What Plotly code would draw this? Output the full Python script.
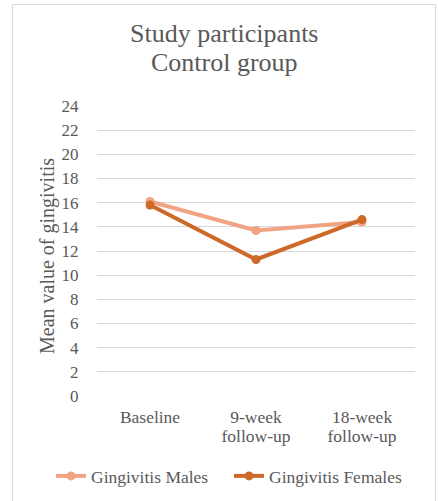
import plotly.graph_objects as go

categories = ["Baseline", "9-week<br>follow-up", "18-week<br>follow-up"]
males = [16.1, 13.7, 14.4]
females = [15.8, 11.3, 14.6]
y_ticks = list(range(0, 25, 2))
title_lines = ["Study participants", "Control group"]

font_family = "Liberation Serif"
text_grey = "#595959"
male_color = "#F1A484"
female_color = "#CD6A2A"

fig = go.Figure()
fig.add_trace(go.Scatter(
    x=categories, y=males, mode="lines+markers", name="Gingivitis Males",
    line=dict(color=male_color, width=4),
    marker=dict(color=male_color, size=9),
))
fig.add_trace(go.Scatter(
    x=categories, y=females, mode="lines+markers", name="Gingivitis Females",
    line=dict(color=female_color, width=4),
    marker=dict(color=female_color, size=9),
))

W, H = 438, 501
ml, mr, mt, mb = 97, 23, 106, 105
pw, ph = W - ml - mr, H - mt - mb

def px(x):
    return (x - ml) / pw

def py(y):
    return (H - mb - y) / ph

def big(s, size):
    # glyph size larger than the base font, so the line pitch stays tight
    return "<br>".join(f'<span style="font-size:{size}px">{part}</span>'
                       for part in s.split("<br>"))

fig.update_layout(
    width=W, height=H,
    margin=dict(l=ml, r=mr, t=mt, b=mb, autoexpand=False),
    paper_bgcolor="white", plot_bgcolor="white",
    font=dict(family=font_family, color=text_grey, size=17),
    showlegend=True,
    legend=dict(
        orientation="h", xanchor="left", yanchor="middle",
        x=px(51), y=py(476),
        font=dict(family=font_family, size=17.5, color=text_grey),
        itemwidth=30, entrywidth=133, tracegroupgap=0,
        bgcolor="rgba(0,0,0,0)",
    ),
    xaxis=dict(
        type="category", range=[-0.5, 2.5], showgrid=False, zeroline=False,
        showline=False, ticks="outside", ticklen=8, tickcolor="rgba(0,0,0,0)",
        tickvals=categories, ticktext=[big(c, 17.5) for c in categories],
        tickfont=dict(family=font_family, size=14.6, color=text_grey),
        fixedrange=True,
    ),
    yaxis=dict(
        range=[0, 24], tickvals=y_ticks, showgrid=True, gridcolor="#D9D9D9",
        gridwidth=1, zeroline=False, showline=False,
        ticks="outside", ticklen=14, tickcolor="rgba(0,0,0,0)",
        tickfont=dict(family=font_family, size=17, color=text_grey),
        fixedrange=True,
    ),
    shapes=[dict(
        type="rect", xref="paper", yref="paper",
        x0=px(12.5), x1=px(435.5), y0=py(4.5), y1=py(510),
        line=dict(color="#D9D9D9", width=1), layer="below",
    )],
    annotations=[
        dict(text=big("<br>".join(title_lines), 26), xref="paper", yref="paper",
             x=px(224), y=py(48), xanchor="center", yanchor="middle",
             showarrow=False,
             font=dict(family=font_family, size=22, color=text_grey)),
        dict(text="Mean value of gingivitis", xref="paper", yref="paper",
             x=px(48), y=py(256), xanchor="center", yanchor="middle",
             textangle=-90, showarrow=False,
             font=dict(family=font_family, size=20, color=text_grey)),
    ],
)

fig.write_html("out.html")
